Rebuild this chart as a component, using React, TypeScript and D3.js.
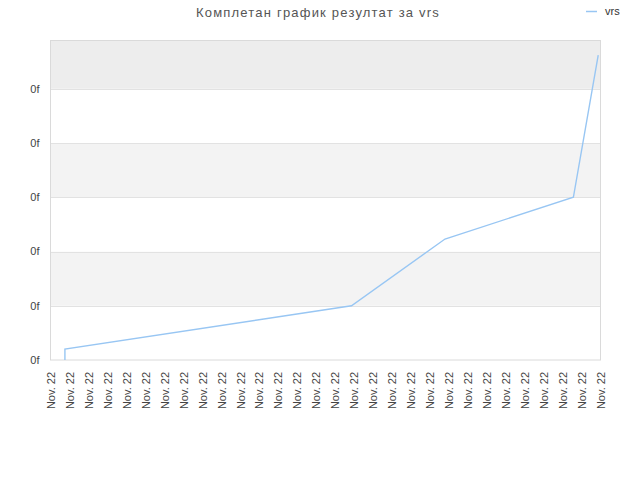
import React, { useEffect, useRef } from 'react';
import * as d3 from 'd3';

const chartTitle = 'Комплетан график резултат за vrs';
const seriesName = 'vrs';

// x tick labels (one per slot)
const xLabels: string[] = Array(30).fill('Nov. 22');

// series (x in tick slots, y in grid units)
const pointSlots = [0.76, 0.76, 15.87, 20.8, 27.57, 28.88];
const pointValues = [0, 0.2, 1.0, 2.23, 3.0, 5.62];

// y ticks and their labels
const yTicks = [0, 1, 2, 3, 4, 5];
const yTickLabels = ['0f', '0f', '0f', '0f', '0f', '0f'];

const App: React.FC = () => {
  const svgRef = useRef<SVGSVGElement | null>(null);

  useEffect(() => {
    if (!svgRef.current) return;
    const svg = d3.select(svgRef.current);
    svg.selectAll('*').remove();

    const width = 640;
    const height = 480;
    const margin = { top: 40.5, right: 39.5, bottom: 120, left: 50.5 };
    const font = '"Liberation Sans", Arial, sans-serif';

    svg.append('rect').attr('width', width).attr('height', height).attr('fill', '#ffffff');

    const x = d3.scaleLinear()
      .domain([0, xLabels.length - 1])
      .range([margin.left, width - margin.right]);

    const y = d3.scaleLinear()
      .domain([0, 5.89])
      .range([height - margin.bottom, margin.top]);

    // --- background bands ---
    const bandEdges = [...yTicks, 5.89];
    const bandFill = ['#ffffff', '#f3f3f3', '#ffffff', '#f3f3f3', '#ffffff', '#ededed'];
    svg.append('g')
      .selectAll('rect')
      .data(d3.pairs(bandEdges))
      .enter()
      .append('rect')
      .attr('x', x(0))
      .attr('width', x(xLabels.length - 1) - x(0))
      .attr('y', d => y(d[1]))
      .attr('height', d => y(d[0]) - y(d[1]))
      .attr('fill', (_, i) => bandFill[i]);

    // --- gridlines ---
    svg.append('g')
      .selectAll('line')
      .data(yTicks.slice(1))
      .enter()
      .append('line')
      .attr('x1', x(0))
      .attr('x2', x(xLabels.length - 1))
      .attr('y1', d => Math.round(y(d)) + 0.5)
      .attr('y2', d => Math.round(y(d)) + 0.5)
      .attr('stroke', '#e2e2e2')
      .attr('stroke-width', 1);

    // plot border
    svg.append('rect')
      .attr('x', x(0))
      .attr('y', y(5.89))
      .attr('width', x(xLabels.length - 1) - x(0))
      .attr('height', y(0) - y(5.89))
      .attr('fill', 'none')
      .attr('stroke', '#dadada')
      .attr('stroke-width', 1);

    // --- series line ---
    const line = d3.line<number>()
      .x((_, i) => x(pointSlots[i]))
      .y(d => y(d));

    svg.append('path')
      .datum(pointValues)
      .attr('fill', 'none')
      .attr('stroke', '#98c6f3')
      .attr('stroke-width', 1.4)
      .attr('d', line);

    // --- y axis labels ---
    svg.append('g')
      .selectAll('text')
      .data(yTicks)
      .enter()
      .append('text')
      .attr('x', margin.left - 11)
      .attr('y', d => y(d))
      .attr('dy', '0.35em')
      .attr('text-anchor', 'end')
      .attr('fill', '#444444')
      .style('font-family', font)
      .style('font-size', '11px')
      .text((_, i) => yTickLabels[i]);

    // --- x axis labels ---
    svg.append('g')
      .selectAll('text')
      .data(xLabels)
      .enter()
      .append('text')
      .attr('transform', (_, i) => `translate(${x(i) + 0.5},${height - margin.bottom + 12}) rotate(-90)`)
      .attr('dy', '0.35em')
      .attr('text-anchor', 'end')
      .attr('fill', '#444444')
      .style('font-family', font)
      .style('font-size', '11px')
      .text(d => d);

    // --- title ---
    svg.append('text')
      .attr('x', 318)
      .attr('y', 17)
      .attr('text-anchor', 'middle')
      .attr('fill', '#555555')
      .style('font-family', font)
      .style('font-size', '13px')
      .style('letter-spacing', '1.2px')
      .text(chartTitle);

    // --- legend ---
    svg.append('line')
      .attr('x1', 586)
      .attr('x2', 597)
      .attr('y1', 11.5)
      .attr('y2', 11.5)
      .attr('stroke', '#98c6f3')
      .attr('stroke-width', 1.5);

    svg.append('text')
      .attr('x', 605)
      .attr('y', 15)
      .attr('fill', '#333333')
      .style('font-family', font)
      .style('font-size', '11px')
      .text(seriesName);
  }, []);

  return (
    <svg
      ref={svgRef}
      width={640}
      height={480}
      style={{ position: 'absolute', left: 0, top: 0, display: 'block' }}
    />
  );
};

export default App;
